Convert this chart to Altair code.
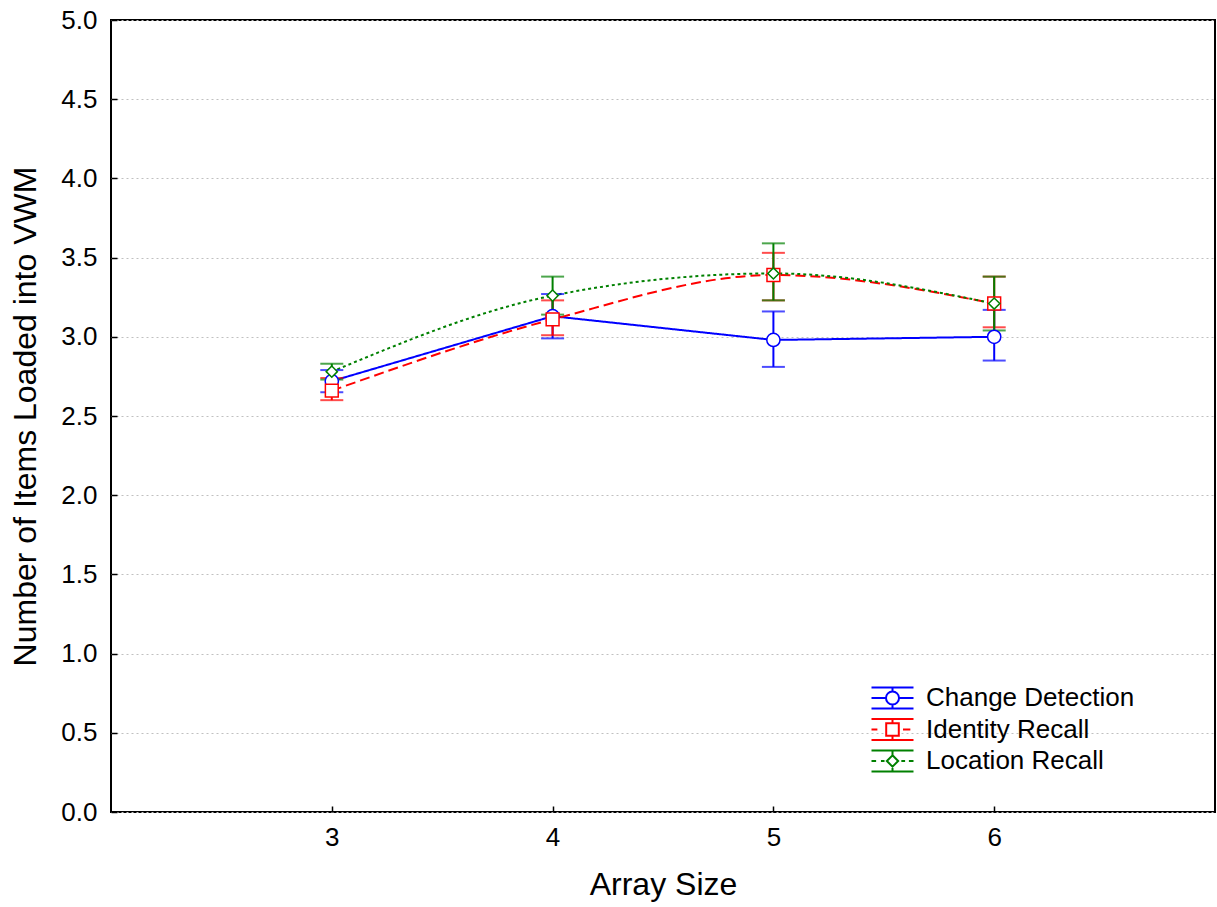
import altair as alt
import pandas as pd

# ---- data ----
array_size = [3, 4, 5, 6]
series_names = ["Change Detection", "Identity Recall", "Location Recall"]

cd_mean = [2.72, 3.13, 2.98, 3.00]
cd_lo = [2.65, 2.99, 2.81, 2.85]
cd_hi = [2.79, 3.27, 3.16, 3.17]

ir_mean = [2.66, 3.11, 3.39, 3.21]
ir_lo = [2.60, 3.01, 3.23, 3.06]
ir_hi = [2.74, 3.23, 3.53, 3.38]

lr_mean = [2.78, 3.26, 3.40, 3.21]
lr_lo = [2.73, 3.14, 3.23, 3.04]
lr_hi = [2.83, 3.38, 3.59, 3.38]

y_ticks = [0.0, 0.5, 1.0, 1.5, 2.0, 2.5, 3.0, 3.5, 4.0, 4.5, 5.0]
x_ticks = [3, 4, 5, 6]

colors = ["#0000ff", "#ff0000", "#008000"]
shapes = ["circle", "square", "diamond"]
sizes = [175, 165, 125]
dashes = [[1, 0], [10, 5], [3, 3]]
interps = ["linear", "monotone", "monotone"]

# legend glyphs (unit = half the glyph height): error-bar caps + middle line + marker
legend_paths = [
    "M-2,-1L2,-1M-2,1L2,1M0,-1L0,-0.62M0,0.62L0,1"
    "M-2,0L-0.62,0M0.62,0L2,0"
    "M0.62,0A0.62,0.62,0,1,1,-0.62,0A0.62,0.62,0,1,1,0.62,0Z",
    "M-2,-1L2,-1M-2,1L2,1M0,-1L0,-0.6M0,0.6L0,1"
    "M-2,0L-1.44,0M1,0L1.7,0"
    "M-0.6,-0.6L0.6,-0.6L0.6,0.6L-0.6,0.6Z",
    "M-2,-1L2,-1M-2,1L2,1M0,-1L0,-0.54M0,0.54L0,1"
    "M-2,0L-1.56,0M-1.1,0L-0.76,0M0.84,0L1.2,0M1.56,0L2,0"
    "M0,-0.54L0.54,0L0,0.54L-0.54,0Z",
]

rows = []
for name, m, lo, hi in zip(series_names, [cd_mean, ir_mean, lr_mean],
                           [cd_lo, ir_lo, lr_lo], [cd_hi, ir_hi, lr_hi]):
    for xv, mv, lv, hv in zip(array_size, m, lo, hi):
        rows.append({"series": name, "size": xv, "mean": mv, "lo": lv, "hi": hv})
df = pd.DataFrame(rows)

xscale = alt.Scale(domain=[2, 7], nice=False, zero=False)
yscale = alt.Scale(domain=[0, 5], nice=False, zero=True)
FONT = "Liberation Sans"

base = alt.Chart(df)

main_x_axis = alt.Axis(values=x_ticks, ticks=False, domain=False, grid=False,
                       labelPadding=12, title="Array Size", titlePadding=19)
main_y_axis = alt.Axis(values=y_ticks, format=".1f", ticks=False, domain=False,
                       grid=True, gridColor="#c0c0c0", gridDash=[2, 3], gridWidth=1,
                       labelPadding=14, title="Number of Items Loaded into VWM",
                       titlePadding=18)
tick_x_axis = alt.Axis(values=x_ticks, orient="bottom", offset=-6, tickSize=6,
                       tickWidth=1.5, tickColor="black", labels=False, domain=False,
                       grid=False, title=None)
tick_y_axis = alt.Axis(values=y_ticks, orient="left", offset=-6, tickSize=6,
                       tickWidth=1.5, tickColor="black", labels=False, domain=False,
                       grid=False, title=None)

layers = []
for i, name in enumerate(series_names):
    sub = base.transform_filter(alt.datum.series == name)
    if i == 0:
        xa, ya = main_x_axis, main_y_axis
    else:
        xa, ya = None, None
    line = sub.mark_line(color=colors[i], strokeWidth=2, strokeDash=dashes[i],
                         interpolate=interps[i]).encode(
        x=alt.X("size:Q", scale=xscale, axis=xa),
        y=alt.Y("mean:Q", scale=yscale, axis=ya),
    )
    layers.append(line)

for i, name in enumerate(series_names):
    sub = base.transform_filter(alt.datum.series == name)
    rule = sub.mark_rule(color=colors[i], strokeWidth=2).encode(
        x=alt.X("size:Q", scale=xscale, axis=None),
        y=alt.Y("lo:Q", scale=yscale, axis=None),
        y2="hi:Q",
    )
    cap_lo = sub.mark_tick(color=colors[i], orient="horizontal", size=23,
                           thickness=2).encode(
        x=alt.X("size:Q", scale=xscale, axis=None),
        y=alt.Y("lo:Q", scale=yscale, axis=None),
    )
    cap_hi = sub.mark_tick(color=colors[i], orient="horizontal", size=23,
                           thickness=2).encode(
        x=alt.X("size:Q", scale=xscale, axis=None),
        y=alt.Y("hi:Q", scale=yscale, axis=None),
    )
    layers += [rule, cap_lo, cap_hi]

for i, name in enumerate(series_names):
    sub = base.transform_filter(alt.datum.series == name)
    pts = sub.mark_point(shape=shapes[i], size=sizes[i], filled=False, fill="white",
                         color=colors[i], strokeWidth=1.5, opacity=1).encode(
        x=alt.X("size:Q", scale=xscale, axis=None),
        y=alt.Y("mean:Q", scale=yscale, axis=None),
    )
    layers.append(pts)

legend_opts = dict(title=None, orient="none", legendX=768.5, legendY=665,
                   direction="vertical", labelFont=FONT, labelFontSize=26,
                   labelColor="black", labelOffset=20.5, labelLimit=0,
                   symbolStrokeWidth=2, symbolSize=441, rowPadding=1.5,
                   padding=0)

legend_layer = base.mark_point(filled=False, fill="white", opacity=0,
                               strokeWidth=2).encode(
    x=alt.X("size:Q", scale=xscale, axis=tick_x_axis),
    y=alt.Y("mean:Q", scale=yscale, axis=tick_y_axis),
    color=alt.Color("series:N", scale=alt.Scale(domain=series_names, range=colors),
                    legend=alt.Legend(**legend_opts)),
    shape=alt.Shape("series:N", scale=alt.Scale(domain=series_names, range=legend_paths),
                    legend=alt.Legend(**legend_opts)),
    size=alt.value(441),
)
layers.append(legend_layer)

chart = alt.layer(*layers).resolve_axis(x="independent", y="independent").properties(
    width=1104, height=792,
    autosize=alt.AutoSizeParams(type="none"),
    padding={"left": 111, "top": 20, "right": 2, "bottom": 95},
    background="white",
).configure_view(
    stroke="black", strokeWidth=2
).configure_axis(
    labelFont=FONT, labelFontSize=26, labelColor="black",
    titleFont=FONT, titleFontSize=32, titleColor="black", titleFontWeight="normal",
)

chart.save("out.html", embed_options={"renderer": "svg", "actions": False})
